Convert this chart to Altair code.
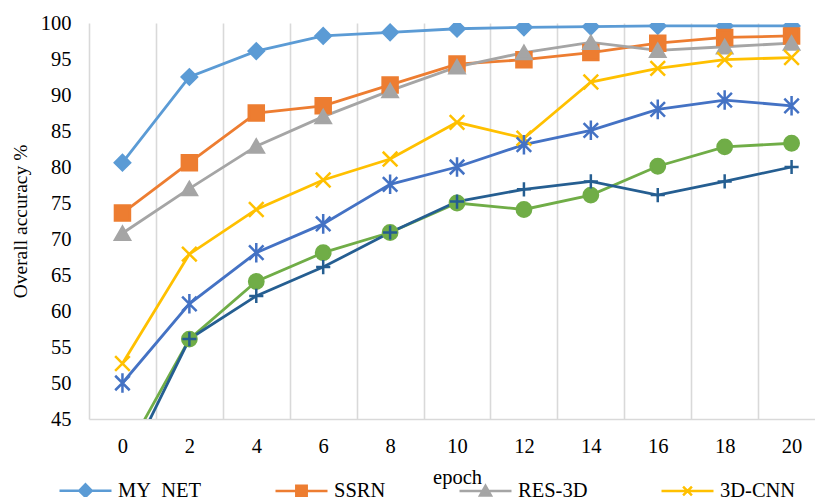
import altair as alt
import pandas as pd

# ---- data ----
epochs = [0, 2, 4, 6, 8, 10, 12, 14, 16, 18, 20]
series_names = ["MY_NET", "SSRN", "RES-3D", "3D-CNN", "Series 5", "Series 6", "Series 7"]
my_net = [80.6, 92.5, 96.1, 98.2, 98.7, 99.2, 99.4, 99.5, 99.6, 99.6, 99.6]
ssrn = [73.6, 80.6, 87.5, 88.5, 91.4, 94.3, 94.9, 95.9, 97.2, 98.0, 98.2]
res3d = [70.8, 77.0, 82.9, 87.0, 90.6, 93.9, 95.9, 97.3, 96.2, 96.7, 97.2]
cnn3d = [52.7, 67.9, 74.1, 78.2, 81.1, 86.2, 84.0, 91.8, 93.7, 94.9, 95.2]
series5 = [50.0, 61.0, 68.1, 72.1, 77.6, 80.0, 83.1, 85.1, 88.0, 89.3, 88.5]
series6 = [39.4, 56.1, 64.1, 68.1, 70.9, 75.0, 74.1, 76.1, 80.1, 82.8, 83.3]
series7 = [37.2, 56.1, 62.1, 66.1, 70.9, 75.2, 76.9, 78.0, 76.1, 78.0, 80.0]
legend_names = ["MY_NET", "SSRN", "RES-3D", "3D-CNN"]
y_ticks = list(range(45, 101, 5))

# ---- styles ----
colors = ["#5B9BD5", "#ED7D31", "#A5A5A5", "#FFC000", "#4472C4", "#70AD47", "#255E91"]
X_PATH = "M-1,-1L1,1M-1,1L1,-1"
STAR_PATH = "M-1,-1L1,1M-1,1L1,-1M0,-1.35L0,1.35"
PLUS_PATH = "M-1,0L1,0M0,-1L0,1"
marker_shapes = ["diamond", "square", "triangle-up", X_PATH, STAR_PATH, "circle", PLUS_PATH]
marker_sizes = [230, 200, 210, 200, 190, 210, 190]
legend_paths = [
    "M-1,0L1,0M0,-0.24L0.24,0L0,0.24L-0.24,0Z",
    "M-1,0L1,0M-0.2,-0.2L0.2,-0.2L0.2,0.2L-0.2,0.2Z",
    "M-1,0L1,0M0,-0.2L0.21,0.17L-0.21,0.17Z",
    "M-1,0L1,0M-0.17,-0.17L0.17,0.17M-0.17,0.17L0.17,-0.17",
]
FONT = "Liberation Serif"

all_values = [my_net, ssrn, res3d, cnn3d, series5, series6, series7]
rows = []
for i, (name, vals) in enumerate(zip(series_names, all_values)):
    for e, v in zip(epochs, vals):
        rows.append({"name": name, "epoch": e, "value": v, "order": i})
df = pd.DataFrame(rows)

x_axis = alt.Axis(
    values=list(range(-1, 21)),
    labelExpr="abs(datum.value % 2) == 1 ? '' : datum.label",
    format="d",
    grid=True,
    gridColor="#d9d9d9",
    gridWidth=1.6,
    gridOpacity={"condition": {"test": "abs(datum.value % 2) == 1", "value": 1}, "value": 0},
    ticks=False,
    tickSize=0,
    domainColor="#d9d9d9",
    domainWidth=1.6,
    labelFont=FONT,
    labelFontSize=20.5,
    labelColor="black",
    labelBaseline="alphabetic",
    labelPadding=33,
    labelFlush=False,
    labelOverlap=False,
    title="epoch",
    titleFont=FONT,
    titleFontSize=20.5,
    titleFontWeight="normal",
    titleColor="black",
    titleX=368,
    titleY=64,
    titleAlign="center",
    titleBaseline="alphabetic",
)
y_axis = alt.Axis(
    values=y_ticks,
    grid=False,
    domain=False,
    ticks=False,
    tickSize=0,
    labelPadding=18,
    labelFont=FONT,
    labelFontSize=20.5,
    labelColor="black",
    title="Overall accuracy  %",
    titleFont=FONT,
    titleFontSize=19.5,
    titleFontWeight="normal",
    titleColor="black",
    titleAngle=270,
    titleX=-69,
    titleY=198,
    titleAlign="center",
    titleBaseline="middle",
)

x_enc = alt.X("epoch:Q", scale=alt.Scale(domain=[-1, 20.7], nice=False, zero=False), axis=x_axis)
y_enc = alt.Y("value:Q", scale=alt.Scale(domain=[45, 100], nice=False, zero=False), axis=y_axis)

base = alt.Chart(df)

lines = base.mark_line(strokeWidth=2.8, clip=True).encode(
    x=x_enc,
    y=y_enc,
    color=alt.Color("name:N", scale=alt.Scale(domain=series_names, range=colors), legend=None),
    detail="name:N",
)

points = base.mark_point(filled=True, opacity=1, strokeWidth=2.5, clip=True).encode(
    x=x_enc,
    y=y_enc,
    fill=alt.Fill("name:N", scale=alt.Scale(domain=series_names, range=colors), legend=None),
    stroke=alt.Stroke("name:N", scale=alt.Scale(domain=series_names, range=colors), legend=None),
    shape=alt.Shape("name:N", scale=alt.Scale(domain=series_names, range=marker_shapes), legend=None),
    size=alt.Size("name:N", scale=alt.Scale(domain=series_names, range=marker_sizes), legend=None),
    order="order:Q",
)

leg = alt.Legend(
    orient="none",
    legendX=-31,
    legendY=440,
    direction="horizontal",
    columns=4,
    title=None,
    symbolSize=2704,
    symbolStrokeWidth=2.5,
    labelFont=FONT,
    labelFontSize=20.5,
    labelColor="black",
    labelOffset=5,
    columnPadding=68,
    padding=0,
    labelLimit=0,
)

legend_layer = base.transform_filter("false").mark_point(filled=True, opacity=1, strokeWidth=2.5).encode(
    fill=alt.Fill("name:N", scale=alt.Scale(domain=legend_names, range=colors[:4]), legend=leg),
    stroke=alt.Stroke("name:N", scale=alt.Scale(domain=legend_names, range=colors[:4]), legend=leg),
    shape=alt.Shape("name:N", scale=alt.Scale(domain=legend_names, range=legend_paths), legend=leg),
)

chart = (
    alt.layer(lines, points, legend_layer)
    .resolve_scale(color="independent", fill="independent", stroke="independent",
                   shape="independent", size="independent")
    .properties(
        width=726,
        height=396,
        padding={"left": 89, "top": 23, "right": 0, "bottom": 78},
        autosize=alt.AutoSizeParams(type="none"),
        background="white",
    )
    .configure_view(strokeWidth=0)
)

chart.save("out.html", embed_options={"renderer": "svg", "actions": False})
